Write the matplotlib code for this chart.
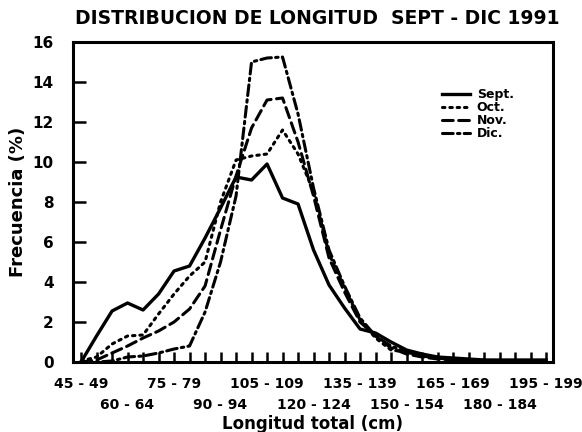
import matplotlib
matplotlib.use('Agg')
import matplotlib.pyplot as plt
import numpy as np

# clases de longitud total (cm)
clases = ['45 - 49', '50 - 54', '55 - 59', '60 - 64', '65 - 69', '70 - 74',
          '75 - 79', '80 - 84', '85 - 89', '90 - 94', '95 - 99', '100 - 104',
          '105 - 109', '110 - 114', '115 - 119', '120 - 124', '125 - 129',
          '130 - 134', '135 - 139', '140 - 144', '145 - 149', '150 - 154',
          '155 - 159', '160 - 164', '165 - 169', '170 - 174', '175 - 179',
          '180 - 184', '185 - 189', '190 - 194', '195 - 199']

# frecuencia (%) por mes
sept = [0, 1.3, 2.55, 2.95, 2.6, 3.4, 4.55, 4.8, 6.2, 7.7, 9.25, 9.1, 9.9,
        8.2, 7.9, 5.6, 3.85, 2.7, 1.65, 1.45, 1.0, 0.6, 0.4, 0.25, 0.2,
        0.15, 0.1, 0.1, 0.1, 0.1, 0.1]
octubre = [0.05, 0.25, 0.9, 1.3, 1.35, 2.4, 3.4, 4.3, 5.0, 8.0, 10.1, 10.3,
           10.4, 11.6, 10.4, 8.5, 5.4, 3.7, 2.1, 1.2, 0.6, 0.5, 0.3, 0.2,
           0.15, 0.1, 0.1, 0.05, 0.05, 0.05, 0.05]
noviembre = [0, 0.1, 0.45, 0.8, 1.2, 1.55, 2.0, 2.65, 3.8, 6.6, 9.3, 11.7,
             13.1, 13.2, 11.0, 8.3, 5.2, 3.5, 2.0, 1.3, 0.7, 0.4, 0.25, 0.15,
             0.1, 0.1, 0.05, 0.05, 0.05, 0.05, 0.05]
diciembre = [0, 0, 0.05, 0.25, 0.3, 0.45, 0.65, 0.8, 2.5, 5.0, 8.3, 15.0,
             15.2, 15.25, 12.4, 8.7, 5.6, 3.8, 2.2, 1.3, 0.8, 0.5, 0.3, 0.2,
             0.1, 0.1, 0.05, 0.05, 0.05, 0.05, 0.05]

meses = ['Sept.', 'Oct.', 'Nov.', 'Dic.']
estilos = ['-', (0, (0.8, 1.6)), (0, (3.5, 1.8)), (0, (3.5, 1.4, 0.8, 1.4))]

plt.rcParams['font.family'] = 'DejaVu Sans'
plt.rcParams['font.weight'] = 'bold'

fig = plt.figure(figsize=(5.82, 4.32), dpi=100)
ax = fig.add_axes([73/582, 1 - 362/432, 480/582, 320/432])

x = np.arange(len(clases))
for serie, nombre, ls in zip([sept, octubre, noviembre, diciembre], meses, estilos):
    lw = 2.4 if ls == '-' else 2.2
    ax.plot(x, serie, color='black', linestyle=ls, linewidth=lw,
            dash_capstyle='round', solid_joinstyle='round', label=nombre)

ax.set_xlim(-0.52, 30.45)
ax.set_ylim(0, 16)

# fila superior en ticks mayores, fila inferior en menores
mayores = [i for i in x if i % 6 == 0]
menores = [i for i in x if i % 6 != 0]
ax.set_xticks(mayores)
ax.set_xticklabels([clases[i] for i in mayores], fontsize=10, fontweight='bold')
ax.set_xticks(menores, minor=True)
ax.set_xticklabels([clases[i] if i % 6 == 3 else '' for i in menores], minor=True,
                   fontsize=10, fontweight='bold')
ax.set_yticks(np.arange(0, 17, 2))
ax.set_yticklabels([str(v) for v in range(0, 17, 2)], fontsize=11, fontweight='bold')
ax.tick_params(axis='x', which='both', direction='in', length=7, width=1.8)
ax.tick_params(axis='x', which='major', pad=11)
ax.tick_params(axis='x', which='minor', pad=26)
ax.tick_params(axis='y', direction='in', length=9, width=1.8, pad=14)
for s in ax.spines.values():
    s.set_linewidth(2.2)

ax.set_xlabel('Longitud total (cm)', fontsize=12, fontweight='bold', labelpad=2)
ax.set_ylabel('Frecuencia (%)', fontsize=13, fontweight='bold', labelpad=4)
fig.text(317/582, 1 - 19/432, 'DISTRIBUCION DE LONGITUD  SEPT - DIC 1991',
         ha='center', va='center', fontsize=13.5, fontweight='bold')

ax.legend(loc='upper left', bbox_to_anchor=(0.755, 0.875), frameon=False,
          handlelength=2.3, labelspacing=0.0, handletextpad=0.5, borderpad=0,
          prop={'weight': 'bold', 'size': 9})

fig.savefig('out.png', dpi=100)
